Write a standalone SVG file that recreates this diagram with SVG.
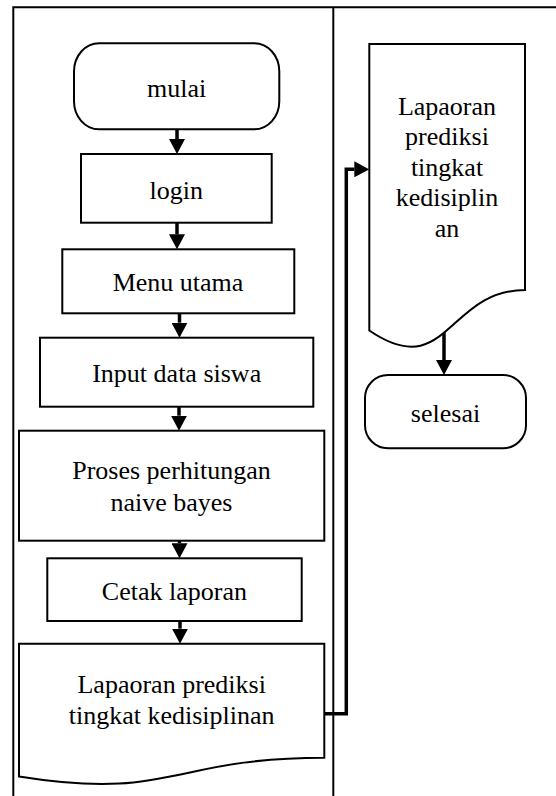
<svg xmlns="http://www.w3.org/2000/svg" width="556" height="796" viewBox="0 0 556 796" font-family="Liberation Serif, Times New Roman, Times, serif">
<style>
.frame{fill:none;stroke:#000;stroke-width:2}
.box{fill:#fff;stroke:#000;stroke-width:2}
.conn{fill:none;stroke:#000;stroke-width:3.5}
.t{font-family:'Liberation Serif', 'Times New Roman', Times, serif;font-size:26px;fill:#000;text-anchor:middle}
</style>
<defs>
<marker id="arr" viewBox="0 0 15 16" refX="0" refY="8" markerWidth="15" markerHeight="16" markerUnits="userSpaceOnUse" orient="auto">
<path d="M0,0 L15,8 L0,16 Z" fill="#000"/>
</marker>
</defs>
<rect width="556" height="796" fill="#fff"/>
<g id="frame">
<path class="frame" d="M13.3,796 V7.3 H556 M333.3,7.3 V796"/>
</g>
<g id="connectors">
<path class="conn" d="M177,129.3 V139" marker-end="url(#arr)"/>
<path class="conn" d="M177,222.7 V234.3" marker-end="url(#arr)"/>
<path class="conn" d="M179.5,313.3 V322.7" marker-end="url(#arr)"/>
<path class="conn" d="M179,406.7 V415.7" marker-end="url(#arr)"/>
<path class="conn" d="M179.5,540.7 V543.3" marker-end="url(#arr)"/>
<path class="conn" d="M180,621 V628.7" marker-end="url(#arr)"/>
<path class="conn" d="M324.3,713.7 H346.3 V169.3 H354.3" marker-end="url(#arr)"/>
<path class="conn" d="M444,330 V360" marker-end="url(#arr)"/>
</g>
<g id="mulai">
<rect class="box" x="74" y="43.3" width="205.3" height="86" rx="25" ry="28"/>
<text class="t" x="176.7" y="96.7">mulai</text>
</g>
<g id="login">
<rect class="box" x="81" y="154" width="190.7" height="68.7"/>
<text class="t" x="176.3" y="199.3">login</text>
</g>
<g id="menu-utama">
<rect class="box" x="62.3" y="249.3" width="232" height="64"/>
<text class="t" x="178" y="291">Menu utama</text>
</g>
<g id="input-data">
<rect class="box" x="40" y="337.7" width="273.3" height="69"/>
<text class="t" x="176.7" y="381.7">Input data siswa</text>
</g>
<g id="proses">
<rect class="box" x="19" y="430.7" width="305.3" height="110"/>
<text class="t" x="171.5" y="479.3">Proses perhitungan</text>
<text class="t" x="171.5" y="510.7">naive bayes</text>
</g>
<g id="cetak">
<rect class="box" x="47.3" y="558.3" width="254.4" height="62.7"/>
<text class="t" x="174.4" y="600">Cetak laporan</text>
</g>
<g id="laporan">
<path class="box" d="M19,643.7 H324.3 V757.7 C171.7,757.7 171.7,801.1 19,776.5 Z"/>
<text class="t" x="171.7" y="693.3">Lapaoran prediksi</text>
<text class="t" x="171.7" y="724.3">tingkat kedisiplinan</text>
</g>
<g id="laporan-2">
<path class="box" d="M369.3,44 H525 V290 C447.2,290 447.2,383.5 369.3,330.5 Z"/>
<text class="t" x="447" y="114.5">Lapaoran</text>
<text class="t" x="447" y="145">prediksi</text>
<text class="t" x="447" y="175.5">tingkat</text>
<text class="t" x="447" y="206">kedisiplin</text>
<text class="t" x="447" y="236.5">an</text>
</g>
<g id="selesai">
<rect class="box" x="365" y="375" width="161" height="73.3" rx="23" ry="23"/>
<text class="t" x="445.5" y="421.7">selesai</text>
</g>
</svg>
